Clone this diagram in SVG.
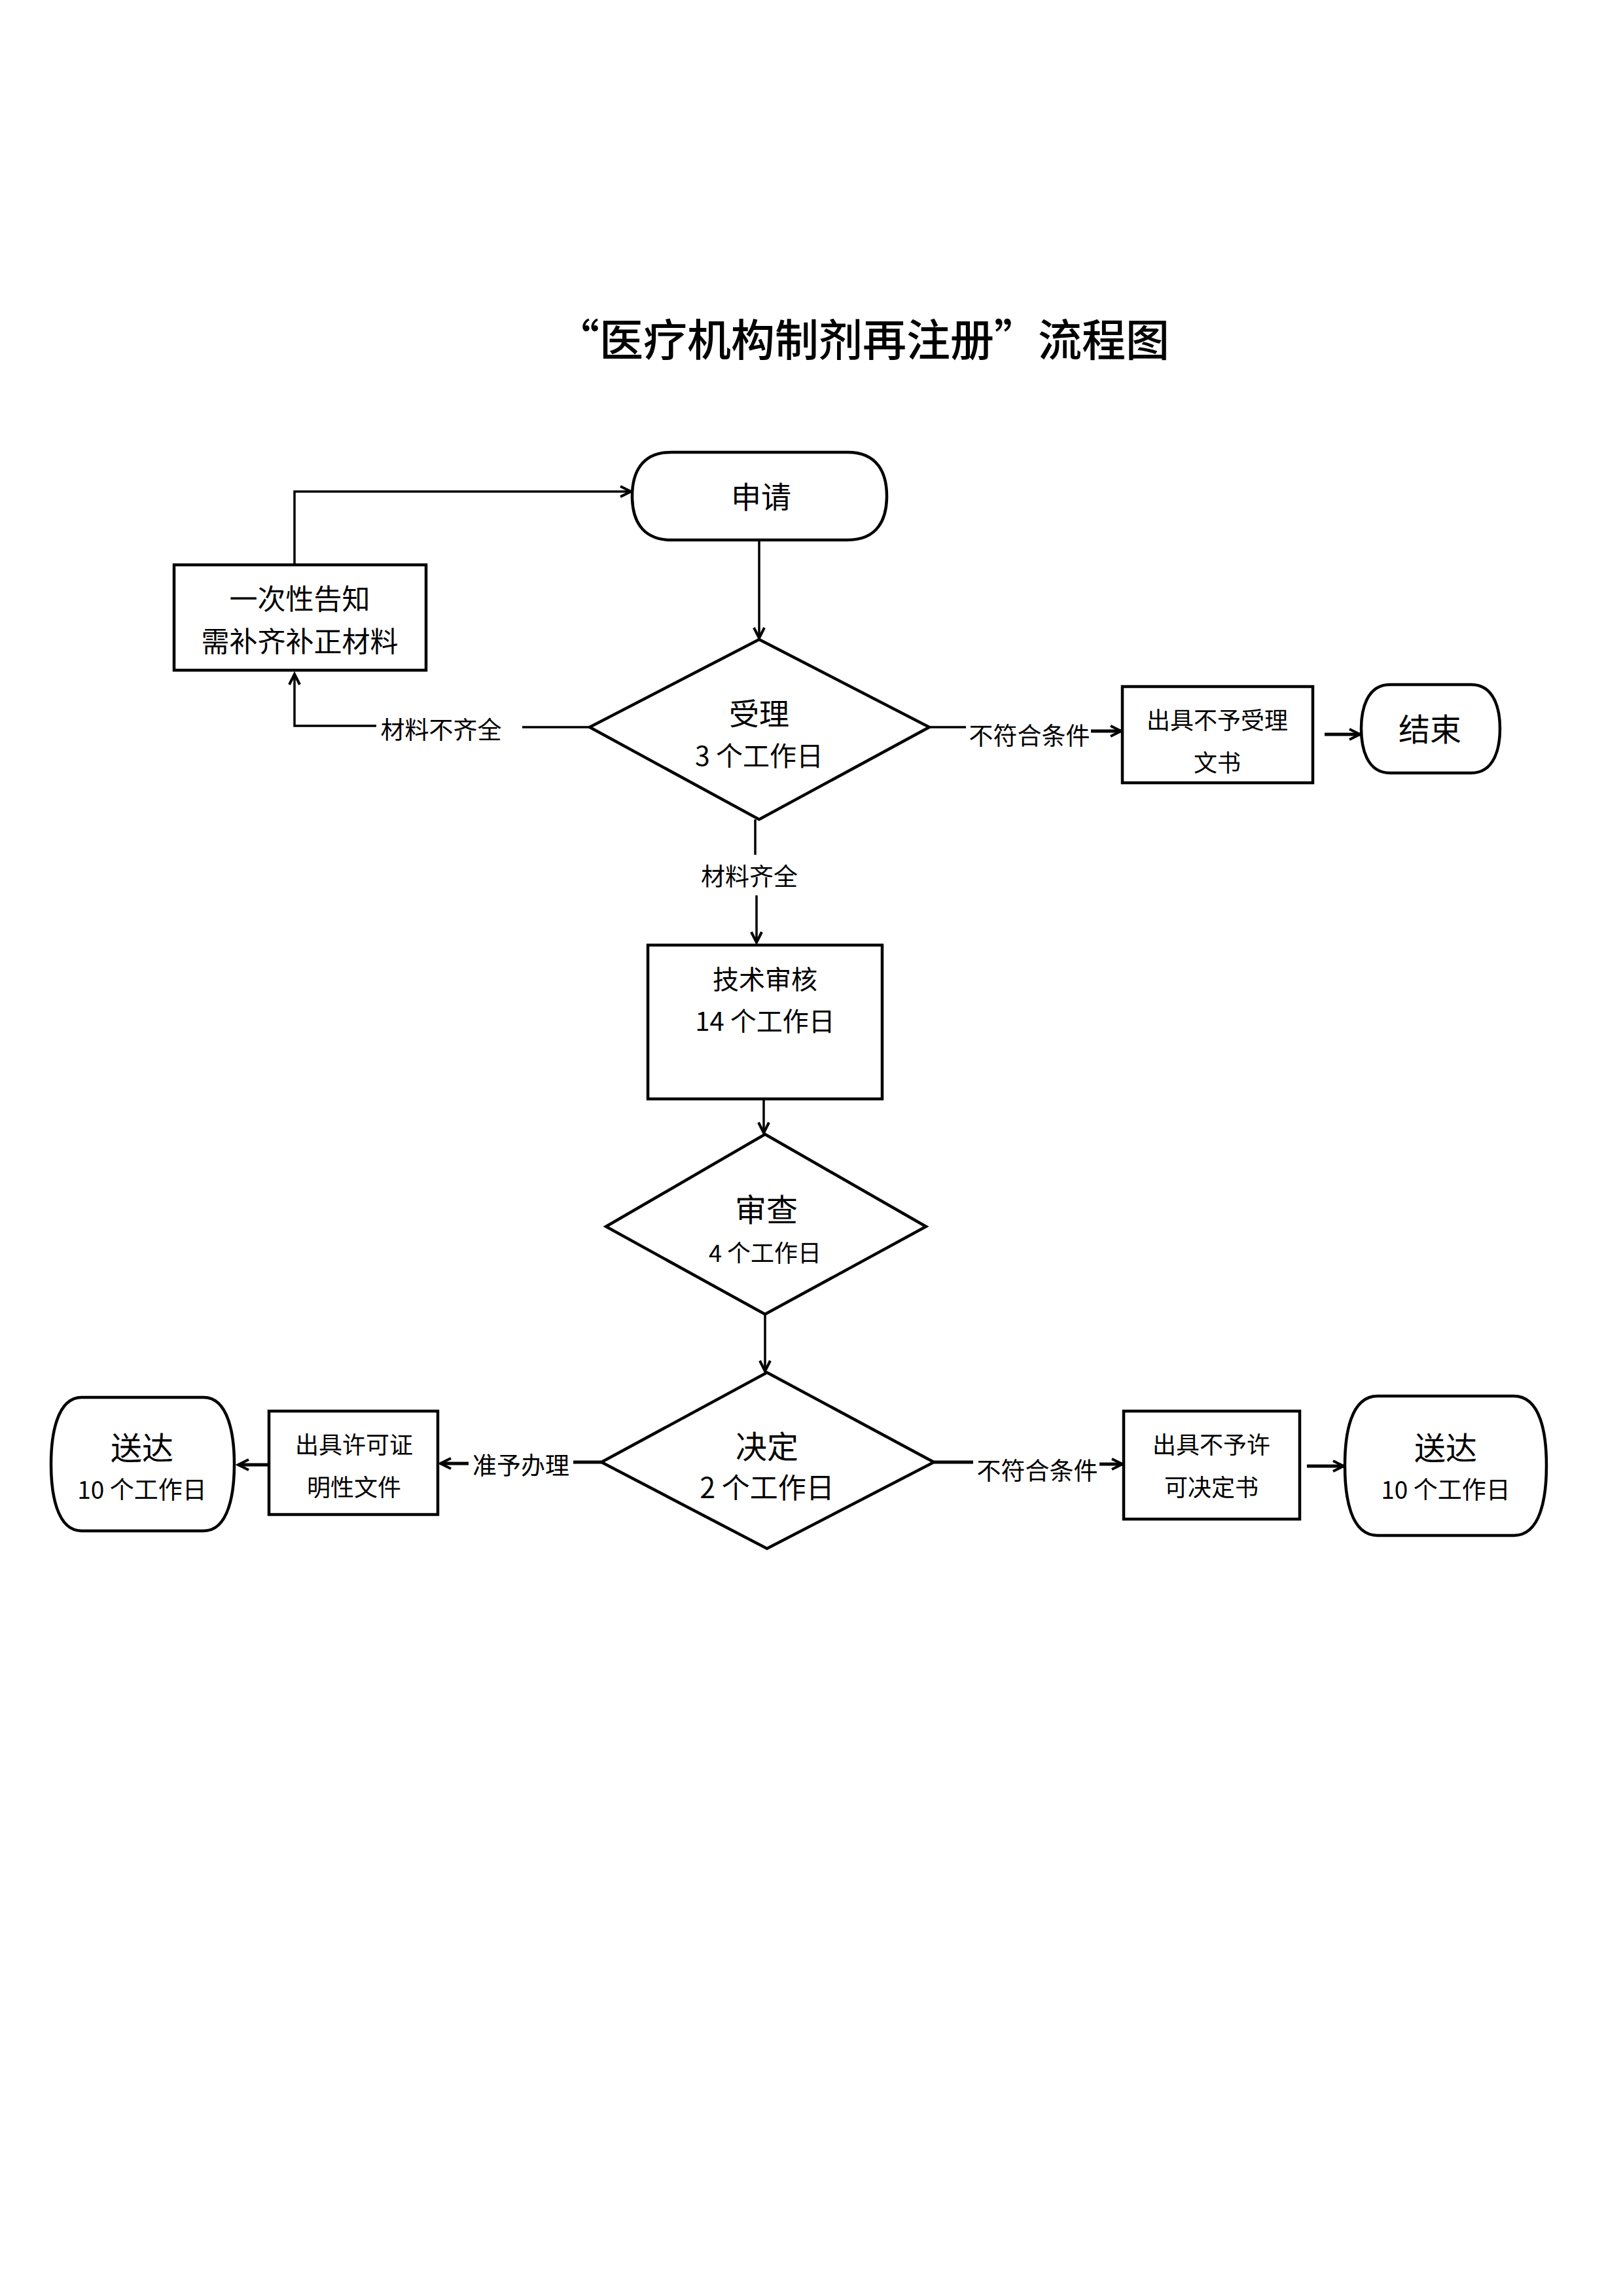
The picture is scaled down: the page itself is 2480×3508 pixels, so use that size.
<svg xmlns="http://www.w3.org/2000/svg" width="2480" height="3508" viewBox="0 0 2480 3508">
<style>
text{font-family:"Noto Sans CJK SC","Noto Sans",sans-serif;fill:#000;text-anchor:middle;dominant-baseline:central}
.shape{fill:#fff;stroke:#000;stroke-width:4.5}
.conn{fill:none;stroke:#000;stroke-width:3.5}
.thick{stroke-width:5}
.lbl{font-size:37px}
</style>
<defs>
<marker id="arr" markerUnits="userSpaceOnUse" markerWidth="26" markerHeight="26" refX="22" refY="13" orient="auto">
<path d="M6,5 L22,13 L6,21" fill="none" stroke="#000" stroke-width="4"/>
</marker>
</defs>
<rect width="2480" height="3508" fill="#fff"/>
<text x="1318" y="514" font-size="67" font-weight="500">“医疗机构制剂再注册”流程图</text>

<g id="connectors">
<path class="conn" d="M1160,827 V975" marker-end="url(#arr)"/>
<path class="conn" d="M901,1111 H798"/>
<path class="conn" d="M575,1109 H450 V1030" marker-end="url(#arr)"/>
<path class="conn" d="M450,863 V751 H964" marker-end="url(#arr)"/>
<path class="conn" d="M1420,1111 H1476"/>
<path class="conn thick" d="M1667,1117 H1713" marker-end="url(#arr)"/>
<path class="conn thick" d="M2024,1122 H2078" marker-end="url(#arr)"/>
<path class="conn" d="M1154,1252 V1306"/>
<path class="conn" d="M1156,1368 V1440" marker-end="url(#arr)"/>
<path class="conn" d="M1167,1666 V1731" marker-end="url(#arr)"/>
<path class="conn" d="M1169,2008 V2095" marker-end="url(#arr)"/>
<path class="conn thick" d="M919,2234 H876"/>
<path class="conn thick" d="M716,2236 H673" marker-end="url(#arr)"/>
<path class="conn thick" d="M411,2238 H364" marker-end="url(#arr)"/>
<path class="conn thick" d="M1427,2234 H1487"/>
<path class="conn thick" d="M1680,2237 H1715" marker-end="url(#arr)"/>
<path class="conn thick" d="M1997,2240 H2053" marker-end="url(#arr)"/>
<text class="lbl" x="674" y="1113">材料不齐全</text>
<text class="lbl" x="1573" y="1122">不符合条件</text>
<text class="lbl" x="1145" y="1337">材料齐全</text>
<text class="lbl" x="796" y="2237">准予办理</text>
<text class="lbl" x="1585" y="2245">不符合条件</text>
</g>

<g id="n-apply">
<path class="shape" d="M1026,691 H1295 C1342,691 1355,724 1355,758 C1355,792 1342,825 1295,825 H1026 C979,825 966,792 966,758 C966,724 979,691 1026,691 Z"/>
<text x="1163" y="756" font-size="46">申请</text>
</g>

<g id="n-notice">
<rect class="shape" x="266" y="863" width="385" height="161"/>
<text x="458" y="912" font-size="43">一次性告知</text>
<text x="458" y="977" font-size="43">需补齐补正材料</text>
</g>

<g id="n-accept">
<polygon class="shape" points="1160,977 1420,1111 1160,1252 901,1111"/>
<text x="1160" y="1087" font-size="46">受理</text>
<text x="1160" y="1152" font-size="41">3 个工作日</text>
</g>

<g id="n-reject1">
<rect class="shape" x="1715" y="1049" width="291" height="147"/>
<text x="1860" y="1098" font-size="36">出具不予受理</text>
<text x="1860" y="1163" font-size="36">文书</text>
</g>

<g id="n-end">
<path class="shape" d="M2124,1046 H2248 C2284,1046 2292,1085 2292,1113 C2292,1142 2284,1181 2248,1181 H2124 C2088,1181 2080,1142 2080,1113 C2080,1085 2088,1046 2124,1046 Z"/>
<text x="2185" y="1111" font-size="48">结束</text>
</g>

<g id="n-tech">
<rect class="shape" x="990" y="1444" width="358" height="235"/>
<text x="1169" y="1494" font-size="40">技术审核</text>
<text x="1169" y="1558" font-size="40">14 个工作日</text>
</g>

<g id="n-review">
<polygon class="shape" points="1169,1733 1415,1874 1169,2008 926,1874"/>
<text x="1171" y="1845" font-size="48">审查</text>
<text x="1169" y="1912" font-size="36">4 个工作日</text>
</g>

<g id="n-decide">
<polygon class="shape" points="1172,2097 1427,2234 1172,2366 919,2234"/>
<text x="1172" y="2207" font-size="48">决定</text>
<text x="1172" y="2270" font-size="43">2 个工作日</text>
</g>

<g id="n-permit">
<rect class="shape" x="411" y="2156" width="258" height="158"/>
<text x="541" y="2205" font-size="36">出具许可证</text>
<text x="541" y="2270" font-size="36">明性文件</text>
</g>

<g id="n-deliver1">
<path class="shape" d="M125,2135 H311 C350,2135 358,2195 358,2237 C358,2280 350,2339 311,2339 H125 C86,2339 78,2280 78,2237 C78,2195 86,2135 125,2135 Z"/>
<text x="217" y="2209" font-size="48">送达</text>
<text x="217" y="2274" font-size="37">10 个工作日</text>
</g>

<g id="n-reject2">
<rect class="shape" x="1717" y="2156" width="269" height="165"/>
<text x="1851" y="2205" font-size="36">出具不予许</text>
<text x="1851" y="2270" font-size="36">可决定书</text>
</g>

<g id="n-deliver2">
<path class="shape" d="M2105,2133 H2313 C2355,2133 2363,2193 2363,2239 C2363,2286 2355,2346 2313,2346 H2105 C2063,2346 2055,2286 2055,2239 C2055,2193 2063,2133 2105,2133 Z"/>
<text x="2209" y="2209" font-size="48">送达</text>
<text x="2209" y="2274" font-size="37">10 个工作日</text>
</g>
</svg>
